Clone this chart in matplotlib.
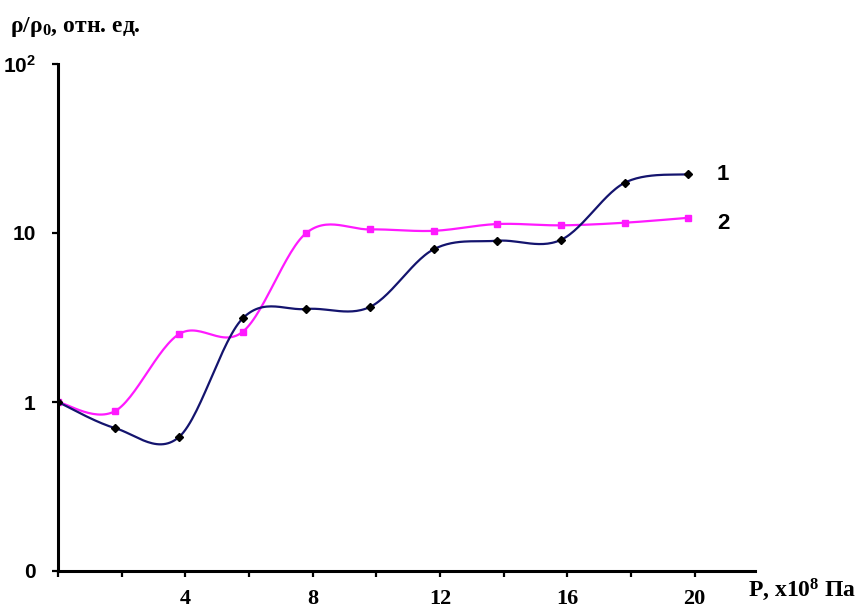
import numpy as np
import matplotlib
matplotlib.use("Agg")
import matplotlib.pyplot as plt
from matplotlib.ticker import FixedLocator, NullLocator

plt.rcParams["mathtext.default"] = "regular"

# --- measured data ---
pressure = [0, 1.8, 3.8, 5.8, 7.8, 9.8, 11.8, 13.8, 15.8, 17.8, 19.8]   # P, x10^8 Pa
rho_1 = [1.0, 0.70, 0.62, 3.12, 3.55, 3.65, 8.0, 9.0, 9.1, 19.8, 22.3]
rho_2 = [1.0, 0.885, 2.52, 2.6, 10.0, 10.5, 10.3, 11.3, 11.1, 11.5, 12.3]

x_ticks = [4, 8, 12, 16, 20]
y_ticks = [0.1, 1, 10, 100]
y_tick_labels = ["0", "1", "10", "10$^2$"]


def smooth(x, y, n=30):
    """Excel-style smoothed line: Bezier segments through the points, in (x, log y)."""
    x = np.asarray(x, float)
    ly = np.log10(np.asarray(y, float))
    pts = np.column_stack([x, ly])
    out = []
    for i in range(len(pts) - 1):
        p0 = pts[max(i - 1, 0)]
        p1 = pts[i]
        p2 = pts[i + 1]
        p3 = pts[min(i + 2, len(pts) - 1)]
        c1 = p1 + (p2 - p0) / 6
        c2 = p2 - (p3 - p1) / 6
        t = np.linspace(0, 1, n)[:, None]
        seg = ((1 - t) ** 3) * p1 + 3 * ((1 - t) ** 2) * t * c1 + 3 * (1 - t) * t ** 2 * c2 + t ** 3 * p2
        out.append(seg if i == 0 else seg[1:])
    out = np.vstack(out)
    return out[:, 0], 10 ** out[:, 1]


fig = plt.figure(figsize=(8.64, 6.14), dpi=100)
ax = fig.add_axes([58 / 864, 43 / 614, 697 / 864, 507 / 614])

navy = "#14146e"
pink = "#ff1aff"

sx, sy = smooth(pressure, rho_1)
ax.plot(sx, sy, color=navy, lw=1.6, zorder=3)
ax.plot(pressure, rho_1, ls="none", marker="D", ms=4, color="black", zorder=4)

sx, sy = smooth(pressure, rho_2)
ax.plot(sx, sy, color=pink, lw=1.6, zorder=2)
ax.plot(pressure, rho_2, ls="none", marker="s", ms=4.5, color=pink, zorder=2)

ax.set_yscale("log")
ax.set_ylim(0.1, 100)
ax.set_xlim(0, 21.9)

ax.yaxis.set_major_locator(FixedLocator(y_ticks))
ax.yaxis.set_minor_locator(NullLocator())
ax.set_yticklabels(y_tick_labels, fontsize=15, fontweight="bold", family="Liberation Sans")

ax.xaxis.set_major_locator(FixedLocator(x_ticks))
ax.xaxis.set_minor_locator(FixedLocator([0, 2, 6, 10, 14, 18]))
ax.set_xticklabels([str(t) for t in x_ticks], fontsize=16, fontweight="bold", family="Liberation Serif")

for s in ["top", "right"]:
    ax.spines[s].set_visible(False)
for s in ["left", "bottom"]:
    ax.spines[s].set_linewidth(2.2)

ax.tick_params(axis="both", which="both", direction="out", width=1.6, length=4, color="black")
ax.tick_params(axis="x", which="major", pad=9)
ax.tick_params(axis="y", which="major", pad=12)

# series numbers at the line ends
ax.text(20.9, rho_1[-1], "1", fontsize=16, fontweight="bold", family="Liberation Sans",
        ha="center", va="center")
ax.text(20.9, rho_2[-1] * 0.93, "2", fontsize=16, fontweight="bold", family="Liberation Sans",
        ha="center", va="center")

fig.text(10 / 864, 1 - 27 / 614, "ρ/ρ$_0$, отн. ед.", fontsize=17, fontweight="bold",
         family="Liberation Serif", ha="left", va="center")
fig.text(748 / 864, 1 - 590 / 614, "P, x10$^8$ Па", fontsize=17, fontweight="bold",
         family="Liberation Serif", ha="left", va="center")

fig.savefig("out.png", dpi=100)
